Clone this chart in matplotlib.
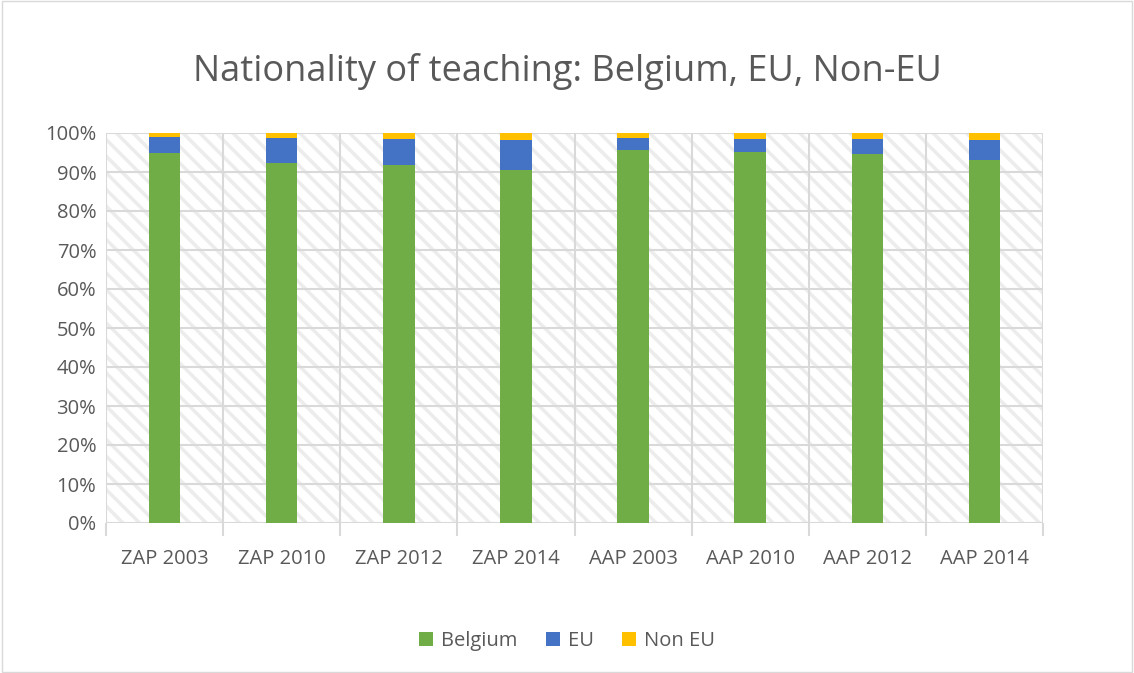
import matplotlib
matplotlib.use("Agg")
import matplotlib.pyplot as plt
import numpy as np
from matplotlib.patches import Rectangle

categories = ["ZAP 2003", "ZAP 2010", "ZAP 2012", "ZAP 2014",
              "AAP 2003", "AAP 2010", "AAP 2012", "AAP 2014"]
belgium = [94.8, 92.2, 91.8, 90.5, 95.6, 95.1, 94.6, 93.2]
eu = [4.3, 6.5, 6.7, 7.8, 3.1, 3.4, 3.9, 5.0]
non_eu = [0.9, 1.3, 1.5, 1.7, 1.3, 1.5, 1.5, 1.8]
yticks = [0, 10, 20, 30, 40, 50, 60, 70, 80, 90, 100]

plt.rcParams['font.family'] = ['Open Sans', 'DejaVu Sans']
plt.rcParams['hatch.linewidth'] = 2.5
text_color = '#595959'
grid_color = '#d9d9d9'

fig = plt.figure(figsize=(11.34, 6.73), dpi=100)
fig.patches.append(Rectangle((0.002, 0.002), 0.996, 0.996, transform=fig.transFigure,
                             fill=False, edgecolor='#d9d9d9', linewidth=1.0))
ax = fig.add_axes([106/1134, 1 - 523/673, (1043-106)/1134, (523-133)/673])

n = len(categories)
x = np.arange(n)
ax.set_xlim(-0.5, n - 0.5)
ax.set_ylim(0, 100)

# hatched background
ax.add_patch(Rectangle((-0.5, 0), n, 100, facecolor='white', edgecolor='#ececec',
                       hatch='\\\\', linewidth=0, zorder=0))

for yv in yticks:
    ax.axhline(yv, color=grid_color, linewidth=1.5, zorder=1)
for xv in np.arange(-0.5, n + 0.5, 1):
    ax.axvline(xv, color=grid_color, linewidth=1.5, zorder=1)

w = 0.27
b = np.array(belgium)
e = np.array(eu)
ne = np.array(non_eu)
ax.bar(x, b, width=w, color='#70ad47', zorder=3, label='Belgium')
ax.bar(x, e, width=w, bottom=b, color='#4472c4', zorder=3, label='EU')
ax.bar(x, ne, width=w, bottom=b + e, color='#ffc000', zorder=3, label='Non EU')

for s in ax.spines.values():
    s.set_visible(False)

ax.set_yticks(yticks)
ax.set_yticklabels([f"{v}%" for v in yticks])
ax.set_xticks(x)
ax.set_xticklabels(categories)
ax.set_xticks(np.arange(-0.5, n + 0.5, 1), minor=True)
ax.tick_params(axis='y', length=0, labelsize=14.5, labelcolor=text_color, pad=7)
ax.tick_params(axis='x', which='major', length=0, labelsize=14.5, labelcolor=text_color, pad=19)
ax.tick_params(axis='x', which='minor', length=9, width=1.5, color=grid_color)

fig.text(0.5, 1 - 72/673, "Nationality of teaching: Belgium, EU, Non-EU", ha='center', va='center',
         fontsize=26, color=text_color)

leg = fig.legend(loc='center', bbox_to_anchor=(0.5, 1 - 641/673), ncol=3, frameon=False,
                 fontsize=14.5, handlelength=0.7, handleheight=0.7, columnspacing=1.4, handletextpad=0.4)
for t in leg.get_texts():
    t.set_color(text_color)

fig.savefig("out.png", dpi=100)
